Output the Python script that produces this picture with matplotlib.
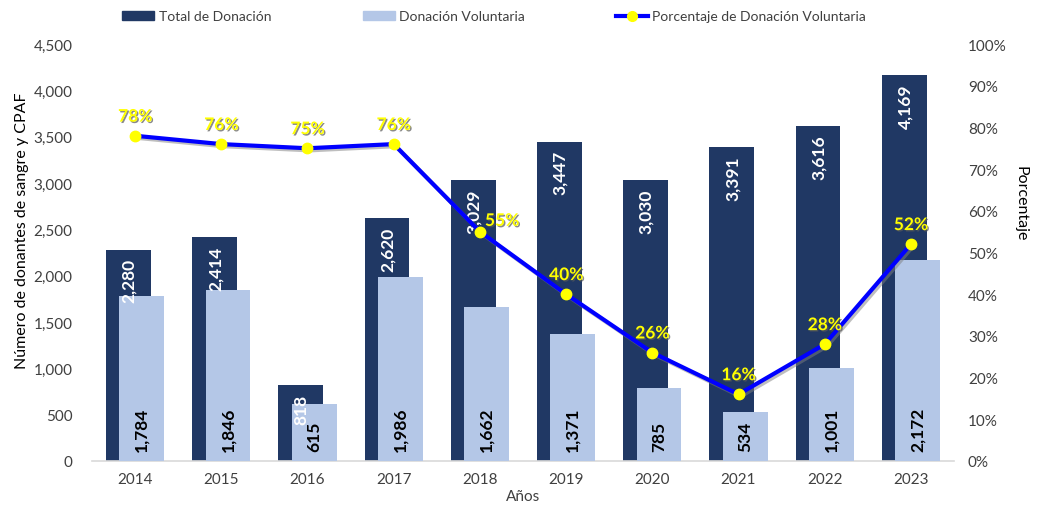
import matplotlib
matplotlib.use("Agg")
import matplotlib.pyplot as plt
import matplotlib.patheffects as pe
from matplotlib.lines import Line2D
from matplotlib.patches import Patch
import numpy as np

years = ["2014", "2015", "2016", "2017", "2018", "2019", "2020", "2021", "2022", "2023"]
total = [2280, 2414, 818, 2620, 3029, 3447, 3030, 3391, 3616, 4169]
voluntaria = [1784, 1846, 615, 1986, 1662, 1371, 785, 534, 1001, 2172]
porcentaje = [78, 76, 75, 76, 55, 40, 26, 16, 28, 52]

plt.rcParams['font.family'] = ['Lato', 'DejaVu Sans']
DARK = '#203864'
LIGHT = '#B4C7E7'
TXT = '#404040'

fig = plt.figure(figsize=(10.37, 5.06), dpi=100)
ax = fig.add_axes([0.0887, 0.087, 0.8313, 0.824])
x = np.arange(len(years))
w = 0.52
off = 0.078
ax.bar(x - off, total, w, color=DARK, zorder=2)
ax.bar(x + off, voluntaria, w, color=LIGHT, zorder=3)

for xi, v in zip(x, total):
    ax.annotate(f"{v:,}", (xi - off + 0.01, v), xytext=(0, -6), textcoords='offset points',
                rotation=90, ha='center', va='top', color='white', fontsize=12.5,
                fontweight='bold', zorder=6)
for xi, v in zip(x, voluntaria):
    ax.annotate(f"{v:,}", (xi + off, 0), xytext=(0, 7), textcoords='offset points',
                rotation=90, ha='center', va='bottom', color='black', fontsize=12.5,
                fontweight='bold', zorder=6)

ax.set_xlim(-0.5, len(years) - 0.5)
ax.set_ylim(0, 4500)
ax.set_yticks(np.arange(0, 4501, 500))
ax.set_yticklabels([f"{t:,}" for t in range(0, 4501, 500)])
ax.set_xticks(x)
ax.set_xticklabels(years)
for s in ['top', 'right', 'left']:
    ax.spines[s].set_visible(False)
ax.spines['bottom'].set_color('#D9D9D9')
ax.spines['bottom'].set_linewidth(1.2)
ax.tick_params(axis='both', length=0, labelsize=11, colors=TXT, pad=8)
ax.tick_params(axis='y', pad=14)
ax.set_ylabel("Número de donantes de sangre y CPAF", fontsize=11.5, color='black')
ax.yaxis.set_label_coords(-0.073, 0.554)
ax.set_xlabel("Años", fontsize=11, color=TXT, labelpad=2)

ax2 = ax.twinx()
ax2.set_ylim(0, 100)
ax2.set_yticks(np.arange(0, 101, 10))
ax2.set_yticklabels([f"{t}%" for t in range(0, 101, 10)])
for s in ['top', 'right', 'left', 'bottom']:
    ax2.spines[s].set_visible(False)
ax2.tick_params(axis='y', length=0, labelsize=11, colors=TXT, pad=10)
ax2.set_ylabel("Porcentaje", fontsize=11.5, color='black', rotation=270, va='center')
ax2.yaxis.set_label_coords(1.0766, 0.619)
line_shadow = [pe.SimpleLineShadow(offset=(1.5, -1.5), shadow_color='#7F7F7F', alpha=0.5), pe.Normal()]
ax2.plot(x, porcentaje, color='#0000FF', lw=3, zorder=5, path_effects=line_shadow)
ax2.plot(x, porcentaje, ls='none', marker='o', ms=7.5, mfc='#FFFF00', mec='#FFFF00', zorder=6)

label_offsets = {4: (16, 2)}
for i, (xi, p) in enumerate(zip(x, porcentaje)):
    dx, dy = label_offsets.get(i, (0, 8))
    ax2.annotate(f"{p}%", (xi, p), xytext=(dx, dy), textcoords='offset points',
                 ha='center', va='bottom', color='#FFFF00', fontsize=12.5, fontweight='bold',
                 zorder=7, path_effects=[pe.withSimplePatchShadow(offset=(1, -1), shadow_rgbFace='#595959', alpha=0.7)])
ax.set_zorder(1)
ax2.set_zorder(2)

handles = [Patch(color=DARK), Patch(color=LIGHT),
           Line2D([0], [0], color='#0000FF', lw=3, marker='o', ms=7, mfc='#FFFF00', mec='#FFFF00')]
labels = ["Total de Donación", "Donación Voluntaria", "Porcentaje de Donación Voluntaria"]
fig.legend(handles, labels, loc='center left', bbox_to_anchor=(0.106, 0.966), ncol=3,
           frameon=False, fontsize=10, handlelength=2.3, handleheight=0.6,
           handletextpad=0.3, columnspacing=6.6, labelcolor=TXT)

fig.savefig("out.png", dpi=100)
